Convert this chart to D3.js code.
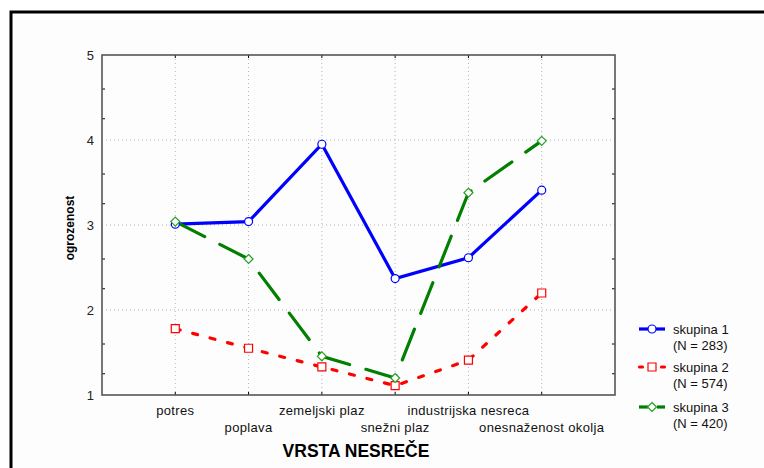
<!DOCTYPE html>
<html><head><meta charset="utf-8">
<script src="https://cdn.jsdelivr.net/npm/d3@7"></script>
<style>body{margin:0;background:#fff}svg{display:block}text{font-family:"Liberation Sans",Arial,sans-serif}</style>
</head><body><svg id="c" width="764" height="468"></svg>
<script>
const categories = ["potres","poplava","zemeljski plaz","snežni plaz","industrijska nesreca","onesnaženost okolja"];
const skupina1 = [3.01, 3.04, 3.95, 2.37, 2.615, 3.41];
const skupina2 = [1.78, 1.55, 1.33, 1.11, 1.41, 2.20];
const skupina3 = [3.04, 2.60, 1.455, 1.20, 3.38, 3.99];
const seriesNames = ["skupina 1","skupina 2","skupina 3"];
const seriesN = ["(N = 283)","(N = 574)","(N = 420)"];
const yTicks = [1,2,3,4,5];
const yMinorOffsets = [0.25, 0.6];

const svg = d3.select("#c");
const L = 102, R = 615, T = 55, B = 395;
const x = d3.scaleLinear().domain([0, categories.length + 1]).range([L, R]);
const y = d3.scaleLinear().domain([1, 5]).range([B, T]);

// outer border
svg.append("rect").attr("x", 11).attr("y", 12).attr("width", 800).attr("height", 500)
  .attr("fill", "#fdfdfd").attr("stroke", "#000").attr("stroke-width", 3);

// gridlines
const g = svg.append("g");
g.selectAll(".hg").data(yTicks.slice(1, -1)).join("line")
  .attr("x1", L).attr("x2", R).attr("y1", d => y(d)).attr("y2", d => y(d))
  .attr("stroke", "#b4b4b4").attr("stroke-dasharray", "1,3");
g.selectAll(".vg").data(categories).join("line")
  .attr("x1", (d, i) => x(i + 1)).attr("x2", (d, i) => x(i + 1)).attr("y1", T).attr("y2", B)
  .attr("stroke", "#b4b4b4").attr("stroke-dasharray", "1,3");

// minor ticks
const minor = [];
for (let v = 1; v < 5; v++) yMinorOffsets.forEach(o => minor.push(v + o));
g.selectAll(".ml").data(minor).join("line")
  .attr("x1", L).attr("x2", L + 3).attr("y1", d => y(d)).attr("y2", d => y(d)).attr("stroke", "#000");
g.selectAll(".mr").data(minor).join("line")
  .attr("x1", R - 3).attr("x2", R).attr("y1", d => y(d)).attr("y2", d => y(d)).attr("stroke", "#000");
g.selectAll(".tb").data(categories).join("line")
  .attr("x1", (d, i) => x(i + 1)).attr("x2", (d, i) => x(i + 1)).attr("y1", B - 3).attr("y2", B).attr("stroke", "#000");
g.selectAll(".tt").data(categories).join("line")
  .attr("x1", (d, i) => x(i + 1)).attr("x2", (d, i) => x(i + 1)).attr("y1", T).attr("y2", T + 3).attr("stroke", "#000");

// frame
svg.append("rect").attr("x", L).attr("y", T).attr("width", R - L).attr("height", B - T)
  .attr("fill", "none").attr("stroke", "#555").attr("stroke-width", 1.6);

// y tick labels
svg.selectAll(".yl").data(yTicks).join("text")
  .attr("x", 94).attr("y", d => y(d) + 5).attr("text-anchor", "end")
  .attr("font-size", 13).attr("fill", "#222").text(d => d);

// x labels staggered
svg.selectAll(".xl").data(categories).join("text")
  .attr("x", (d, i) => x(i + 1)).attr("y", (d, i) => i % 2 === 0 ? 415 : 432)
  .attr("text-anchor", "middle").attr("font-size", 13).attr("letter-spacing", 0.35)
  .attr("fill", "#111").text(d => d);

svg.append("text").attr("x", 356).attr("y", 457).attr("text-anchor", "middle")
  .attr("font-size", 17.5).attr("font-weight", "bold").text("VRSTA NESREČE");
svg.append("text").attr("transform", "translate(74,228) rotate(-90)").attr("text-anchor", "middle")
  .attr("font-size", 12).attr("font-weight", "bold").text("ogrozenost");

const diamond = {draw(ctx, size) { const r = Math.sqrt(size / 2); ctx.moveTo(0, -r); ctx.lineTo(r, 0); ctx.lineTo(0, r); ctx.lineTo(-r, 0); ctx.closePath(); }};
const styles = [
  {data: skupina1, color: "#0000ff", mcolor: "#0000ff", dash: null, marker: "circle"},
  {data: skupina2, color: "#ff0000", mcolor: "#ff0000", dash: "5,13", marker: "square"},
  {data: skupina3, color: "#007f00", mcolor: "#22a022", dash: "33,17", marker: "diamond"}
];
const line = d3.line().x((d, i) => x(i + 1)).y(d => y(d));
const symMap = {circle: d3.symbolCircle, square: d3.symbolSquare, diamond: diamond};
const sizeMap = {circle: 50, square: 64, diamond: 40};

styles.forEach(s => {
  svg.append("path").datum(s.data).attr("d", line).attr("fill", "none")
    .attr("stroke", s.color).attr("stroke-width", 3.2)
    .attr("stroke-dasharray", s.dash).attr("stroke-linecap", s.dash ? "round" : "butt");
});
styles.forEach(s => {
  svg.selectAll(null).data(s.data).join("path")
    .attr("transform", (d, i) => `translate(${x(i + 1)},${y(d)})`)
    .attr("d", d3.symbol(symMap[s.marker], sizeMap[s.marker]))
    .attr("fill", "#fff").attr("stroke", s.mcolor).attr("stroke-width", 1.2);
});

// legend
const legY = [329, 367, 407];
styles.forEach((s, i) => {
  const ly = legY[i];
  const lg = svg.append("g");
  if (s.marker === "circle") {
    lg.append("line").attr("x1", 639).attr("x2", 665).attr("y1", ly).attr("y2", ly).attr("stroke", s.color).attr("stroke-width", 3.2);
  } else if (s.marker === "square") {
    [641, 663].forEach(cx => lg.append("line").attr("x1", cx - 1.5).attr("x2", cx + 1.5).attr("y1", ly).attr("y2", ly)
      .attr("stroke", s.color).attr("stroke-width", 3.2).attr("stroke-linecap", "round"));
  } else {
    lg.append("line").attr("x1", 639).attr("x2", 648).attr("y1", ly).attr("y2", ly).attr("stroke", s.color).attr("stroke-width", 3.2);
    lg.append("line").attr("x1", 657).attr("x2", 665).attr("y1", ly).attr("y2", ly).attr("stroke", s.color).attr("stroke-width", 3.2);
  }
  lg.append("path").attr("transform", `translate(652,${ly})`)
    .attr("d", d3.symbol(symMap[s.marker], sizeMap[s.marker]))
    .attr("fill", "#fff").attr("stroke", s.mcolor).attr("stroke-width", 1.2);
  lg.append("text").attr("x", 673).attr("y", ly + 5).attr("font-size", 13).attr("fill", "#111").text(seriesNames[i]);
  lg.append("text").attr("x", 673).attr("y", ly + 21).attr("font-size", 13).attr("fill", "#111").text(seriesN[i]);
});
</script></body></html>
